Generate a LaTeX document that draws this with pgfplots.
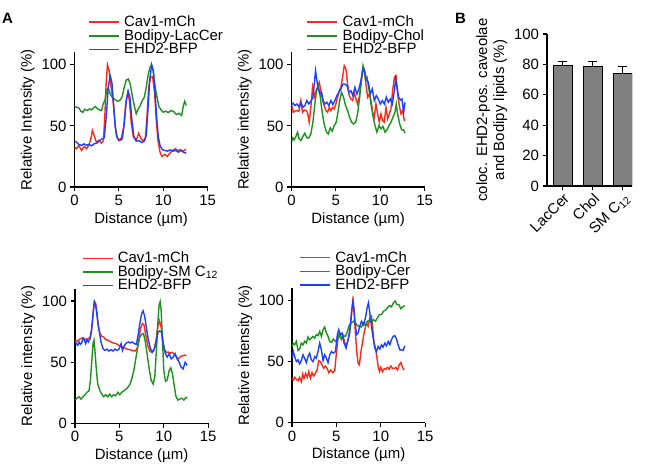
\documentclass[border=0pt]{standalone}
\usepackage{fontspec}
\setmainfont{Liberation Sans}
\usepackage{pgfplots}
\pgfplotsset{compat=1.18}
\definecolor{cred}{RGB}{255,40,25}
\definecolor{cgreen}{RGB}{30,145,30}
\definecolor{cblue}{RGB}{25,65,255}
\definecolor{cbar}{RGB}{128,128,128}
\pgfplotsset{
  base/.style={
    scale only axis,
    font=\fontsize{15}{17}\selectfont,
    axis x line*=bottom, axis y line*=left,
    axis line style={line width=1.1pt, black},
    tick align=outside,
    major tick length=4.5bp,
    tick style={black, line width=1.1pt},
    /pgf/number format/assume math mode=true,
    tick label style={font=\fontsize{15}{17}\selectfont},
    label style={font=\fontsize{15}{17}\selectfont},
  },
  prof/.style={base, width=133.2bp, height=134.5bp, xmin=0, xmax=15, ymin=0, ymax=110,
    xtick={0,5,10,15}, ytick={0,50,100},
    xlabel={Distance (µm)}, ylabel={Relative intensity (\%)},
    legend style={draw=none, fill=none, anchor=south west, inner sep=0pt, row sep=1bp,
      nodes={inner sep=0pt, text depth=0.2em}, cells={anchor=west},
      /tikz/every odd column/.append style={column sep=4.5bp},
      font=\fontsize{15}{17}\selectfont},
    legend image code/.code={\draw[#1, line width=1.4bp] (0bp,0bp) -- (30bp,0bp);},
    every axis plot/.append style={line width=1.4bp},
  },
}
\begin{document}
\begin{tikzpicture}
\useasboundingbox (0,0) rectangle (648bp,465bp);
\node[anchor=base west, font=\fontsize{15}{17}\selectfont\bfseries, inner sep=0pt] at (2bp,441bp) {A};
\node[anchor=base west, font=\fontsize{15}{17}\selectfont\bfseries, inner sep=0pt] at (455bp,441bp) {B};

% Panel 1
\begin{axis}[prof, at={(74.5bp,278bp)}, anchor=south west, ylabel={Relative Intensity (\%)},
  legend style={at={(axis description cs:0.101,0.975)}}]
\addplot[cred] coordinates {(0,32.6)(0.22,31.3)(0.49,34)(0.79,29.9)(1.09,33.2)(1.35,31.3)(1.61,34)(1.84,39.4)(2.02,46.2)(2.21,42.1)(2.47,36.7)(2.73,38)(3.03,35.9)(3.26,38)(3.41,57)(3.56,84)(3.71,100)(3.9,95)(4.08,84)(4.34,70.7)(4.53,54.3)(4.72,42)(4.98,38)(5.28,40.2)(5.54,49)(5.77,68)(6.0,77.4)(6.18,70.7)(6.4,51.6)(6.63,40.8)(6.97,38.6)(7.23,44)(7.45,40.2)(7.72,37.5)(7.98,40.2)(8.16,57)(8.35,81.5)(8.58,89.7)(8.8,90.2)(9.03,76)(9.21,54.3)(9.4,38)(9.63,28.5)(9.85,25)(10.15,26.6)(10.45,25)(10.75,27.7)(11.05,29.9)(11.35,31.3)(11.65,29.9)(11.95,30.4)(12.25,29.3)(12.55,31)};
\addlegendentry{Cav1-mCh}
\addplot[cgreen] coordinates {(0,65.8)(0.23,65.2)(0.49,64.7)(0.71,62)(0.94,61.1)(1.17,63.6)(1.43,62.5)(1.69,63.9)(1.92,63)(2.14,64.7)(2.37,65.8)(2.59,63.9)(2.82,63)(3.05,62.5)(3.23,68)(3.42,70.7)(3.61,78.8)(3.8,81)(4.02,76)(4.25,73.4)(4.47,72)(4.7,70.7)(4.92,70.1)(5.15,71.2)(5.38,73.9)(5.6,81.5)(5.83,87.5)(6.05,88.3)(6.28,84.2)(6.5,74.7)(6.73,66.6)(6.95,59.8)(7.18,63.9)(7.41,66.6)(7.63,70.7)(7.86,73.4)(8.08,81.5)(8.31,92.4)(8.53,98.4)(8.68,100)(8.87,95)(9.06,82.9)(9.29,73.4)(9.51,65.8)(9.74,63)(10,61.1)(10.26,62)(10.56,60.9)(10.86,62.5)(11.17,61.7)(11.47,59.2)(11.77,60.3)(12.07,58.4)(12.26,66.6)(12.41,70.1)(12.59,66.6)};
\addlegendentry{Bodipy-LacCer}
\addplot[cblue] coordinates {(0,37.5)(0.23,36.7)(0.49,34.8)(0.79,34)(1.09,35.3)(1.35,34.2)(1.62,34.8)(1.92,33.7)(2.22,35.3)(2.52,35.9)(2.82,38)(3.12,39.4)(3.35,40.2)(3.57,57)(3.8,81.5)(4.02,91)(4.21,85.6)(4.4,68)(4.59,49)(4.81,40.2)(5.11,38)(5.38,39.4)(5.6,51.6)(5.83,70.7)(6.05,78.3)(6.24,73.4)(6.47,54.3)(6.69,41.3)(6.95,37.5)(7.26,38)(7.56,36.4)(7.86,37.5)(8.08,42.1)(8.27,62.5)(8.46,87)(8.68,100)(8.87,95)(9.06,78.8)(9.25,57)(9.44,40.8)(9.66,33.2)(9.92,30.4)(10.19,29.9)(10.49,29.3)(10.79,30.4)(11.09,29.3)(11.39,29.9)(11.69,28.5)(11.99,29.9)(12.29,28.3)(12.59,27.7)};
\addlegendentry{EHD2-BFP}
\end{axis}

% Panel 2
\begin{axis}[prof, at={(291.5bp,278bp)}, anchor=south west,
  legend style={at={(axis description cs:0.113,0.975)}}]
\addplot[cred] coordinates {(0,67.9)(0.19,61.1)(0.38,62)(0.6,62.5)(0.83,62)(1.05,70.7)(1.24,61.1)(1.43,63)(1.62,62.5)(1.8,61.1)(1.99,53)(2.18,65.2)(2.37,81.5)(2.56,73.4)(2.74,78.8)(2.93,81.5)(3.12,85.6)(3.31,78.8)(3.5,70.7)(3.68,66.6)(3.87,62.5)(4.06,61.1)(4.25,65.2)(4.44,62.5)(4.62,65.2)(4.81,63.9)(5,67.9)(5.19,73.4)(5.38,78.8)(5.56,81.5)(5.75,89.7)(5.94,99.2)(6.13,96.5)(6.32,84.2)(6.5,74.7)(6.69,72)(6.88,70.7)(7.07,77.4)(7.26,72)(7.44,67.9)(7.63,73.4)(7.82,84.2)(8.01,95.1)(8.2,96.5)(8.38,84.2)(8.57,73.4)(8.76,76)(8.95,70.7)(9.14,61.1)(9.32,57.1)(9.51,67.9)(9.7,59.8)(9.89,53)(10.08,59.8)(10.26,54.3)(10.45,53)(10.64,65.2)(10.83,55.7)(11.02,59.8)(11.2,63.9)(11.39,78.8)(11.58,89.7)(11.77,91)(11.95,76)(12.14,66.6)(12.33,59.8)(12.52,62.5)(12.71,53.8)};
\addlegendentry{Cav1-mCh}
\addplot[cgreen] coordinates {(0,36.7)(0.15,40.2)(0.3,38.6)(0.49,41.3)(0.68,44.8)(0.86,39.4)(1.05,38)(1.28,41.3)(1.5,44)(1.73,40.2)(1.95,40.2)(2.18,43.5)(2.41,53)(2.63,67.9)(2.82,78.8)(3.01,82.9)(3.2,76)(3.38,65.2)(3.57,55.7)(3.76,48.9)(3.95,44.8)(4.14,43.5)(4.36,48.4)(4.59,45.7)(4.81,50.3)(5.04,53)(5.26,62.5)(5.49,73.4)(5.64,77.4)(5.86,73.4)(6.09,66.6)(6.32,62.5)(6.54,57.1)(6.77,53)(6.99,51.6)(7.22,53)(7.44,59.8)(7.67,73.4)(7.86,87)(8.05,99.2)(8.2,95.1)(8.35,87)(8.5,89.7)(8.72,80.2)(8.95,67.9)(9.17,58.4)(9.4,50.3)(9.62,44.8)(9.85,50.3)(10.08,47.6)(10.3,49.5)(10.53,44.8)(10.75,46.7)(10.98,50.3)(11.2,53)(11.43,57.1)(11.65,61.1)(11.8,67.9)(11.95,59.8)(12.18,51.6)(12.41,46.7)(12.63,46.7)(12.78,44)};
\addlegendentry{Bodipy-Chol}
\addplot[cblue] coordinates {(0,67.4)(0.19,68.5)(0.38,66.6)(0.6,67.9)(0.83,65.8)(1.05,69.3)(1.28,65.2)(1.5,66.6)(1.73,70.7)(1.95,67.9)(2.18,70.1)(2.41,73.4)(2.56,84.2)(2.71,95.1)(2.86,87)(3.01,80.2)(3.2,76)(3.38,77.4)(3.57,70.7)(3.76,67.9)(3.98,69.3)(4.21,66.6)(4.44,70.7)(4.66,67.4)(4.89,70.7)(5.11,74.7)(5.34,77.4)(5.56,80.2)(5.79,84.2)(6.02,84.2)(6.24,82.9)(6.47,77.4)(6.69,78.8)(6.92,74.7)(7.14,81.5)(7.37,76)(7.59,80.2)(7.82,87)(8.05,96.5)(8.23,95.1)(8.42,88.3)(8.65,85.6)(8.87,76)(9.1,80.2)(9.32,70.7)(9.55,74.7)(9.77,72)(10,67.9)(10.23,70.7)(10.45,67.9)(10.68,73.4)(10.9,69.3)(11.13,72)(11.35,67.9)(11.58,78.8)(11.73,88.3)(11.88,81.5)(12.07,73.4)(12.26,71.2)(12.44,72)(12.63,61.1)(12.78,69.3)};
\addlegendentry{EHD2-BFP}
\end{axis}

% Panel 3
\begin{axis}[prof, at={(75bp,41.7bp)}, anchor=south west,
  legend style={at={(axis description cs:0.05,0.975)}}]
\addplot[cred] coordinates {(0,67.9)(0.3,67.3)(0.6,69.2)(0.9,70.1)(1.2,68.4)(1.5,69.2)(1.73,70.6)(1.88,76.6)(2.03,88.5)(2.18,99.5)(2.33,98.1)(2.48,89.8)(2.63,78.8)(2.82,73.4)(3.01,71.2)(3.23,70.6)(3.46,68.4)(3.76,67.9)(4.06,66.5)(4.36,65.7)(4.66,65.1)(4.96,63.5)(5.26,62.9)(5.56,61.8)(5.86,60.7)(6.17,60.2)(6.47,59.6)(6.77,59.1)(6.99,61)(7.18,67.9)(7.37,77.5)(7.59,81.6)(7.78,80.2)(7.97,72)(8.2,63.7)(8.42,59.1)(8.65,58)(8.87,59.6)(9.1,66.5)(9.32,78.8)(9.51,83.8)(9.7,78.8)(9.89,67.9)(10.08,60.2)(10.3,58)(10.53,58.2)(10.75,57.4)(10.98,58)(11.2,56.3)(11.43,54.1)(11.65,52.7)(11.88,54.7)(12.11,55.2)(12.33,55.8)(12.56,55.2)};
\addlegendentry{Cav1-mCh}
\addplot[cgreen] coordinates {(0,19)(0.23,20.6)(0.45,21.7)(0.68,19.8)(0.9,21.7)(1.13,23.4)(1.35,25.3)(1.58,26.6)(1.73,34.9)(1.88,50)(2.03,65.1)(2.14,67.9)(2.26,58.2)(2.41,43.1)(2.56,32.1)(2.78,27.2)(3.01,23.9)(3.23,21.7)(3.46,23.4)(3.68,21.7)(3.91,23.9)(4.14,21.7)(4.36,23.4)(4.59,22.5)(4.81,25.3)(5.04,23.4)(5.26,25.3)(5.49,26.6)(5.71,27.7)(5.94,29.4)(6.17,31.6)(6.39,36.3)(6.62,43.1)(6.84,52.7)(7.07,62.4)(7.29,70.6)(7.52,72.8)(7.71,73.4)(7.89,67.9)(8.12,56.9)(8.35,44.5)(8.57,35.4)(8.8,32.1)(8.98,37.6)(9.17,59.6)(9.32,81.6)(9.47,96.7)(9.59,99.5)(9.7,92.6)(9.85,67.9)(10,43.1)(10.19,34.3)(10.38,35.4)(10.6,43.1)(10.79,45.3)(10.98,40.4)(11.17,30.8)(11.35,22.5)(11.58,19)(11.8,19.8)(12.03,20.6)(12.26,19)(12.48,21.2)(12.63,20.6)};
\addlegendentry{Bodipy-SM C\textsubscript{12}}
\addplot[cblue] coordinates {(0,67.9)(0.15,65.1)(0.3,63.7)(0.45,66.5)(0.6,64.6)(0.75,65.7)(0.9,69.2)(1.05,68.4)(1.2,65.1)(1.35,68.4)(1.5,66.5)(1.69,69.2)(1.88,77.5)(2.03,89.8)(2.18,99.5)(2.33,96.7)(2.52,85.7)(2.71,76.1)(2.93,66.5)(3.16,61)(3.38,59.6)(3.61,60.7)(3.83,59.1)(4.06,60.2)(4.29,59.1)(4.51,60.7)(4.74,59.6)(4.96,60.7)(5.19,65.1)(5.34,59.6)(5.56,63.7)(5.79,65.7)(6.02,66.5)(6.24,65.7)(6.47,66.5)(6.69,65.1)(6.92,64.6)(7.14,73.4)(7.33,83)(7.52,89.8)(7.67,92)(7.86,87.1)(8.05,77.5)(8.27,67.9)(8.5,61)(8.72,58.2)(8.95,61)(9.17,67.9)(9.36,74.7)(9.55,75.5)(9.74,74.7)(9.92,65.1)(10.15,57.4)(10.38,54.1)(10.6,56.9)(10.83,52.7)(11.05,54.1)(11.28,56.9)(11.5,52.7)(11.73,50)(11.95,45.9)(12.18,44.5)(12.41,50)(12.63,47.3)};
\addlegendentry{EHD2-BFP}
\end{axis}

% Panel 4
\begin{axis}[prof, at={(292bp,42.3bp)}, anchor=south west,
  legend style={at={(axis description cs:0.055,0.975)}}]
\addplot[cred] coordinates {(0,36.3)(0.15,34.9)(0.3,37.1)(0.49,35.4)(0.68,34.3)(0.86,37.1)(1.05,33.5)(1.2,39.8)(1.35,36.3)(1.54,40.4)(1.73,37.1)(1.88,41.8)(2.07,36.3)(2.26,40.9)(2.44,38.2)(2.63,40.4)(2.82,43.1)(3.01,50.8)(3.2,50)(3.38,47.3)(3.57,44.5)(3.76,46.4)(3.95,44.5)(4.14,40.9)(4.36,43.1)(4.59,40.9)(4.81,42.6)(5,56.9)(5.19,69.2)(5.38,70.6)(5.56,69.2)(5.75,71.2)(5.94,65.1)(6.13,63.7)(6.32,67.9)(6.5,73.4)(6.69,87.1)(6.84,99.5)(6.99,92.6)(7.14,73.4)(7.29,58.2)(7.44,48.6)(7.59,47.3)(7.74,56.9)(7.89,63.7)(8.05,70.6)(8.2,76.1)(8.38,81.6)(8.57,78.8)(8.76,85.7)(8.95,87.1)(9.1,76.1)(9.25,65.1)(9.4,61)(9.55,54.1)(9.7,45.9)(9.85,41.8)(10,45.3)(10.19,41.8)(10.38,44.2)(10.56,43.7)(10.75,45.3)(10.94,43.7)(11.13,46.4)(11.32,44.5)(11.5,44.2)(11.69,45.3)(11.88,43.1)(12.07,47.3)(12.26,49.2)(12.44,45.3)(12.63,43.1)};
\addlegendentry{Cav1-mCh}
\addplot[cgreen] coordinates {(0,62.4)(0.15,64.6)(0.3,63.7)(0.49,66.5)(0.68,59.1)(0.86,60.2)(1.05,65.1)(1.24,63.7)(1.43,66.5)(1.62,65.1)(1.8,70.1)(1.99,67.9)(2.18,69.2)(2.37,70.6)(2.56,69.2)(2.74,72)(2.93,71.2)(3.12,74.7)(3.31,70.6)(3.5,76.1)(3.68,78.3)(3.87,73.4)(4.06,70.6)(4.25,66.5)(4.44,65.7)(4.66,68.4)(4.89,66.5)(5.11,67.9)(5.34,73.4)(5.56,67.9)(5.79,71.2)(6.02,70.6)(6.24,74.7)(6.47,80.2)(6.69,81.6)(6.92,83)(7.14,81.6)(7.37,79.4)(7.59,78.8)(7.82,78.3)(8.05,81.6)(8.27,79.4)(8.5,83)(8.72,83.8)(8.95,82.1)(9.17,84.3)(9.4,83)(9.62,85.7)(9.85,88.5)(10.08,88.5)(10.3,91.2)(10.53,92)(10.75,94)(10.98,95.9)(11.2,94.8)(11.43,98.1)(11.62,99.5)(11.8,96.7)(12.03,96.7)(12.26,93.1)(12.48,94.8)(12.71,95.9)};
\addlegendentry{Bodipy-Cer}
\addplot[cblue] coordinates {(0,52.7)(0.15,58.2)(0.3,54.1)(0.49,50)(0.68,51.4)(0.86,48.1)(1.05,50.8)(1.24,55.5)(1.43,52.7)(1.62,49.2)(1.8,54.1)(1.99,56.9)(2.18,51.4)(2.37,50)(2.56,54.1)(2.74,52.7)(2.93,58.2)(3.12,65.1)(3.31,59.6)(3.5,50.8)(3.68,55.5)(3.87,52.7)(4.06,49.2)(4.25,55.5)(4.44,58.2)(4.66,56.9)(4.89,58.2)(5.11,72)(5.26,76.1)(5.45,72)(5.64,73.4)(5.86,65.1)(6.09,61)(6.32,67.9)(6.54,77.5)(6.73,92.6)(6.88,99.5)(7.07,84.3)(7.26,72)(7.44,73.4)(7.63,78.8)(7.82,83)(8.05,80.2)(8.27,85.7)(8.46,94)(8.61,98.1)(8.76,89.8)(8.95,78.8)(9.14,69.2)(9.32,61)(9.51,58.2)(9.7,62.4)(9.89,60.2)(10.08,63.7)(10.26,61.8)(10.45,65.1)(10.64,62.9)(10.83,66.5)(11.02,63.7)(11.2,67.9)(11.39,70.6)(11.58,71.2)(11.77,68.4)(11.95,63.7)(12.14,59.6)(12.33,59.6)(12.52,59.1)(12.71,62.9)};
\addlegendentry{EHD2-BFP}
\end{axis}

% Panel B
\begin{axis}[base, at={(547bp,279bp)}, anchor=south west, width=85bp, height=152bp,
  xmin=-0.53, xmax=2.31, ymin=0, ymax=100, ytick={0,20,40,60,80,100},
  xtick={0,1,2}, xticklabels={LacCer,Chol,SM C\textsubscript{12}},
  xticklabel style={rotate=45, anchor=north east, inner sep=1pt},
  ylabel={coloc. EHD2-pos. caveolae\\and Bodipy lipids (\%)},
  ylabel style={align=center}]
\addplot[ybar, bar width=19bp, fill=cbar, draw=black, line width=1.1pt,
  error bars/.cd, y dir=plus, y explicit,
  error bar style={line width=1.1pt, black},
  error mark options={rotate=90, mark size=4.5bp, line width=1.1pt, black}]
  coordinates {(0,79) +- (0,2.7) (1,78.5) +- (0,3.3) (2,74) +- (0,4.6)};
\end{axis}
\end{tikzpicture}
\end{document}
